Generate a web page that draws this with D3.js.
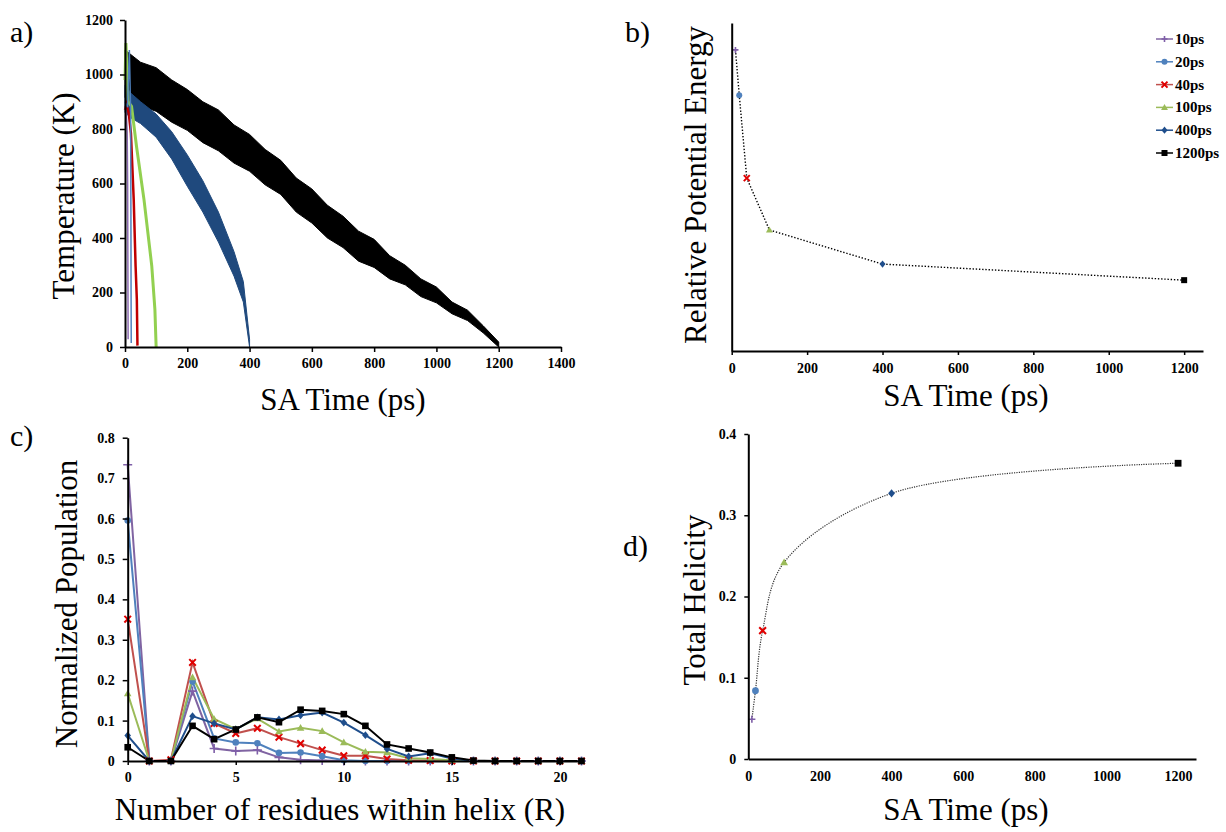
<!DOCTYPE html>
<html>
<head>
<meta charset="utf-8">
<script src="https://cdn.jsdelivr.net/npm/d3@7"></script>
<style>
body { margin: 0; background: #fff; }
svg { font-family: "Liberation Serif", "Times New Roman", serif; }
</style>
</head>
<body>
<svg id="fig" width="1226" height="832"></svg>
<script>
// Series shared by all four panels
const seriesNames = ["10ps", "20ps", "40ps", "100ps", "400ps", "1200ps"];
const saTimes = [10, 20, 40, 100, 400, 1200];
const markKinds = ["plus", "circle", "cross", "triangle", "diamond", "square"];
const lineColors = ["#8064A2", "#4F81BD", "#C0504D", "#9BBB59", "#1F4E8C", "#000000"];
const markColors = ["#7F5FA8", "#4F81BD", "#E00000", "#9BBB59", "#1F4E8C", "#000000"];

// a) temperature traces (noisy bands as upper / lower envelopes)
const t1200 = [0, 50, 100, 150, 200, 250, 300, 350, 400, 450, 500, 550, 600, 650, 700, 750, 800, 850, 900, 950, 1000, 1050, 1100, 1150, 1200];
const hi1200 = [1090, 1045, 1025, 980, 945, 900, 870, 815, 780, 725, 685, 620, 580, 520, 480, 425, 395, 335, 300, 250, 220, 165, 135, 78, 18];
const lo1200 = [915, 885, 865, 825, 795, 750, 720, 675, 645, 595, 560, 495, 455, 400, 365, 315, 292, 250, 228, 185, 162, 122, 97, 52, 0];
const t400 = [0, 20, 50, 100, 150, 200, 250, 300, 350, 380, 400];
const hi400 = [960, 930, 900, 855, 790, 705, 610, 495, 350, 240, 28];
const lo400 = [860, 840, 820, 770, 690, 590, 495, 385, 260, 165, 0];
const t100 = [0, 3, 10, 21, 37, 61, 86, 96, 100];
const k100 = [980, 1115, 900, 883, 736, 541, 297, 138, 0];
const t40 = [0, 5, 12, 19, 28, 34, 38, 40];
const k40 = [870, 890, 858, 785, 541, 297, 175, 5];
const t20 = [0, 8, 14, 18, 19, 19.5, 20];
const k20 = [900, 880, 1090, 870, 500, 200, 15];
const t10 = [0, 4, 7, 8.5, 9.5, 10];
const k10 = [880, 860, 790, 600, 200, 28];
const traceColors = ["#8C6BB1", "#4F81BD", "#C00000", "#92D050", "#1F497D", "#000000"];

// b) relative potential energy (no scale on the axis, 0..1 arbitrary)
const relEnergy = [0.918, 0.780, 0.527, 0.369, 0.265, 0.216];

// c) helix length distribution
const residues = [0, 1, 2, 3, 4, 5, 6, 7, 8, 9, 10, 11, 12, 13, 14, 15, 16, 17, 18, 19, 20, 21];
const pop10 = [0.733, 0, 0, 0.173, 0.031, 0.025, 0.027, 0.009, 0.003, 0.001, 0, 0, 0, 0, 0, 0, 0, 0, 0, 0, 0, 0];
const pop20 = [0.595, 0, 0, 0.197, 0.056, 0.046, 0.044, 0.020, 0.021, 0.012, 0.002, 0, 0, 0, 0, 0, 0, 0, 0, 0, 0, 0];
const pop40 = [0.351, 0, 0.003, 0.244, 0.093, 0.068, 0.081, 0.059, 0.043, 0.027, 0.013, 0.013, 0.005, 0.002, 0.001, 0, 0, 0, 0, 0, 0, 0];
const pop100 = [0.167, 0, 0, 0.207, 0.104, 0.079, 0.105, 0.073, 0.082, 0.074, 0.046, 0.023, 0.021, 0.007, 0.005, 0.002, 0, 0, 0, 0, 0, 0];
const pop400 = [0.063, 0, 0, 0.111, 0.093, 0.078, 0.108, 0.103, 0.113, 0.120, 0.095, 0.064, 0.030, 0.011, 0.019, 0.006, 0, 0, 0, 0, 0, 0];
const pop1200 = [0.034, 0, 0, 0.087, 0.054, 0.078, 0.108, 0.096, 0.127, 0.124, 0.116, 0.087, 0.041, 0.031, 0.021, 0.009, 0.001, 0, 0, 0, 0, 0];
const populations = [pop10, pop20, pop40, pop100, pop400, pop1200];

// d) total helicity
const helicity = [0.049, 0.084, 0.158, 0.242, 0.327, 0.364];

const svg = d3.select("#fig");
const intFmt = d3.format("d");
const decFmt = d => d < 0.001 ? "0" : d3.format(".1f")(d);

function styleAxis(g) {
  g.attr("font-family", null).attr("font-size", null);
  g.select(".domain").attr("stroke", "#000").attr("stroke-width", 2);
  g.selectAll(".tick line").attr("stroke", "#000").attr("stroke-width", 1.5);
  g.selectAll(".tick text").attr("font-weight", "bold").attr("font-size", 14).attr("fill", "#000");
}

function addMark(g, kind, cx, cy, s, color) {
  const m = g.append("g").attr("transform", `translate(${cx},${cy})`);
  if (kind === "plus") {
    m.append("path").attr("d", `M${-s},0H${s}M0,${-s}V${s}`).attr("stroke", color).attr("stroke-width", 1.6);
  } else if (kind === "cross") {
    m.append("path").attr("d", `M${-s},${-s}L${s},${s}M${-s},${s}L${s},${-s}`).attr("stroke", color).attr("stroke-width", 2);
  } else if (kind === "circle") {
    m.append("circle").attr("r", s).attr("fill", color);
  } else if (kind === "square") {
    m.append("rect").attr("x", -s).attr("y", -s).attr("width", 2 * s).attr("height", 2 * s).attr("fill", color);
  } else if (kind === "diamond") {
    m.append("path").attr("d", `M0,${-s * 1.2}L${s},0L0,${s * 1.2}L${-s},0Z`).attr("fill", color);
  } else {
    m.append("path").attr("d", `M0,${-s * 1.15}L${s * 1.15},${s * 0.85}L${-s * 1.15},${s * 0.85}Z`).attr("fill", color);
  }
}

function yTitle(text, x, y) {
  svg.append("text").attr("transform", `translate(${x},${y}) rotate(-90)`)
    .attr("text-anchor", "middle").attr("font-size", 31).text(text);
}
function xTitle(text, x, y) {
  svg.append("text").attr("x", x).attr("y", y).attr("text-anchor", "middle").attr("font-size", 31).text(text);
}
function panelLabel(text, x, y) {
  svg.append("text").attr("x", x).attr("y", y).attr("font-size", 30).text(text);
}

// ---------- a) ----------
const xA = d3.scaleLinear().domain([0, 1400]).range([125, 561]);
const yA = d3.scaleLinear().domain([0, 1200]).range([347, 20]);
const gA = svg.append("g");

function band(t, hi, lo, color) {
  const area = d3.area().x((d, i) => xA(t[i])).y0((d, i) => yA(lo[i])).y1((d, i) => yA(hi[i]));
  gA.append("path").attr("d", area(t)).attr("fill", color).attr("stroke", color).attr("stroke-width", 1);
}
function trace(t, k, color, w) {
  const line = d3.line().x((d, i) => xA(t[i])).y((d, i) => yA(k[i]));
  gA.append("path").attr("d", line(t)).attr("fill", "none").attr("stroke", color).attr("stroke-width", w);
}
band(t1200, hi1200, lo1200, traceColors[5]);
band(t400, hi400, lo400, traceColors[4]);
trace(t100, k100, traceColors[3], 3);
trace(t40, k40, traceColors[2], 2.5);
trace(t20, k20, traceColors[1], 1.5);
trace(t10, k10, traceColors[0], 1.5);

gA.append("g").attr("transform", "translate(0,347)")
  .call(d3.axisBottom(xA).tickValues(d3.range(0, 1401, 200)).tickFormat(intFmt).tickSize(5).tickPadding(6).tickSizeOuter(0))
  .call(styleAxis);
gA.append("g").attr("transform", "translate(125,0)")
  .call(d3.axisLeft(yA).tickValues(d3.range(0, 1201, 200)).tickFormat(intFmt).tickSize(5).tickPadding(7).tickSizeOuter(0))
  .call(styleAxis);
panelLabel("a)", 10, 42);
yTitle("Temperature (K)", 74, 196);
xTitle("SA Time (ps)", 343, 410);

// ---------- b) ----------
const xB = d3.scaleLinear().domain([0, 1250]).range([731.7, 1203]);
const yB = d3.scaleLinear().domain([0, 1]).range([351, 23]);
const gB = svg.append("g");
gB.append("path")
  .attr("d", d3.line().x((d, i) => xB(saTimes[i])).y((d, i) => yB(relEnergy[i]))(saTimes))
  .attr("fill", "none").attr("stroke", "#000").attr("stroke-width", 1.4).attr("stroke-dasharray", "1.4,1.8");
saTimes.forEach((t, i) => addMark(gB, markKinds[i], xB(t), yB(relEnergy[i]), 3, markColors[i]));
gB.append("g").attr("transform", "translate(0,351)")
  .call(d3.axisBottom(xB).tickValues(d3.range(0, 1201, 200)).tickFormat(intFmt).tickSize(4).tickPadding(8).tickSizeOuter(0))
  .call(styleAxis);
gB.append("g").attr("transform", "translate(731.7,0)")
  .call(d3.axisLeft(yB).tickValues([]).tickSizeOuter(0))
  .call(styleAxis);

// legend
const leg = svg.append("g");
seriesNames.forEach((name, i) => {
  const ly = 39 + i * 22.8;
  leg.append("line").attr("x1", 1156).attr("x2", 1173).attr("y1", ly).attr("y2", ly)
    .attr("stroke", lineColors[i]).attr("stroke-width", 1.5);
  addMark(leg, markKinds[i], 1164.5, ly, 3, markColors[i]);
  leg.append("text").attr("x", 1175).attr("y", ly + 5).attr("font-size", 15).attr("font-weight", "bold").text(name);
});
panelLabel("b)", 625, 42);
yTitle("Relative Potential Energy", 706, 185);
xTitle("SA Time (ps)", 966, 406);

// ---------- c) ----------
const xC = d3.scaleLinear().domain([0, 21]).range([127.7, 581.5]);
const yC = d3.scaleLinear().domain([0, 0.8]).range([761, 437.7]);
const gC = svg.append("g");
populations.forEach((pop, s) => {
  gC.append("path")
    .attr("d", d3.line().x((d, i) => xC(residues[i])).y((d, i) => yC(pop[i]))(residues))
    .attr("fill", "none").attr("stroke", lineColors[s]).attr("stroke-width", 2);
});
populations.forEach((pop, s) => {
  residues.forEach((r, i) => addMark(gC, markKinds[s], xC(r), yC(pop[i]), markKinds[s] === "plus" ? 4.5 : 3.3, markColors[s]));
});
gC.append("g").attr("transform", "translate(0,761)")
  .call(d3.axisBottom(xC).tickValues([0, 5, 10, 15, 20]).tickFormat(intFmt).tickSize(4).tickPadding(7).tickSizeOuter(0))
  .call(styleAxis);
gC.append("g").attr("transform", "translate(127.7,0)")
  .call(d3.axisLeft(yC).tickValues(d3.range(0, 0.81, 0.1)).tickSize(5).tickPadding(8).tickSizeOuter(0).tickFormat(decFmt))
  .call(styleAxis);
panelLabel("c)", 10, 446);
yTitle("Normalized Population", 77, 604);
xTitle("Number of residues within helix (R)", 340, 820);

// ---------- d) ----------
const xD = d3.scaleLinear().domain([0, 1250]).range([748.3, 1196]);
const yD = d3.scaleLinear().domain([0, 0.4]).range([759, 434]);
const gD = svg.append("g");
gD.append("path")
  .attr("d", d3.line().curve(d3.curveCatmullRom.alpha(0.5)).x((d, i) => xD(saTimes[i])).y((d, i) => yD(helicity[i]))(saTimes))
  .attr("fill", "none").attr("stroke", "#333").attr("stroke-width", 1.2).attr("stroke-dasharray", "1.2,1.2");
saTimes.forEach((t, i) => addMark(gD, markKinds[i], xD(t), yD(helicity[i]), markKinds[i] === "plus" ? 3.5 : 3.4, markColors[i]));
gD.append("g").attr("transform", "translate(0,759)")
  .call(d3.axisBottom(xD).tickValues(d3.range(0, 1201, 200)).tickFormat(intFmt).tickSize(0).tickPadding(12).tickSizeOuter(0))
  .call(styleAxis);
gD.append("g").attr("transform", "translate(748.3,0)")
  .call(d3.axisLeft(yD).tickValues([0, 0.1, 0.2, 0.3, 0.4]).tickSize(4).tickPadding(8).tickSizeOuter(0).tickFormat(decFmt))
  .call(styleAxis);
panelLabel("d)", 623, 556);
yTitle("Total Helicity", 705, 600);
xTitle("SA Time (ps)", 966, 820);
</script>
</body>
</html>
